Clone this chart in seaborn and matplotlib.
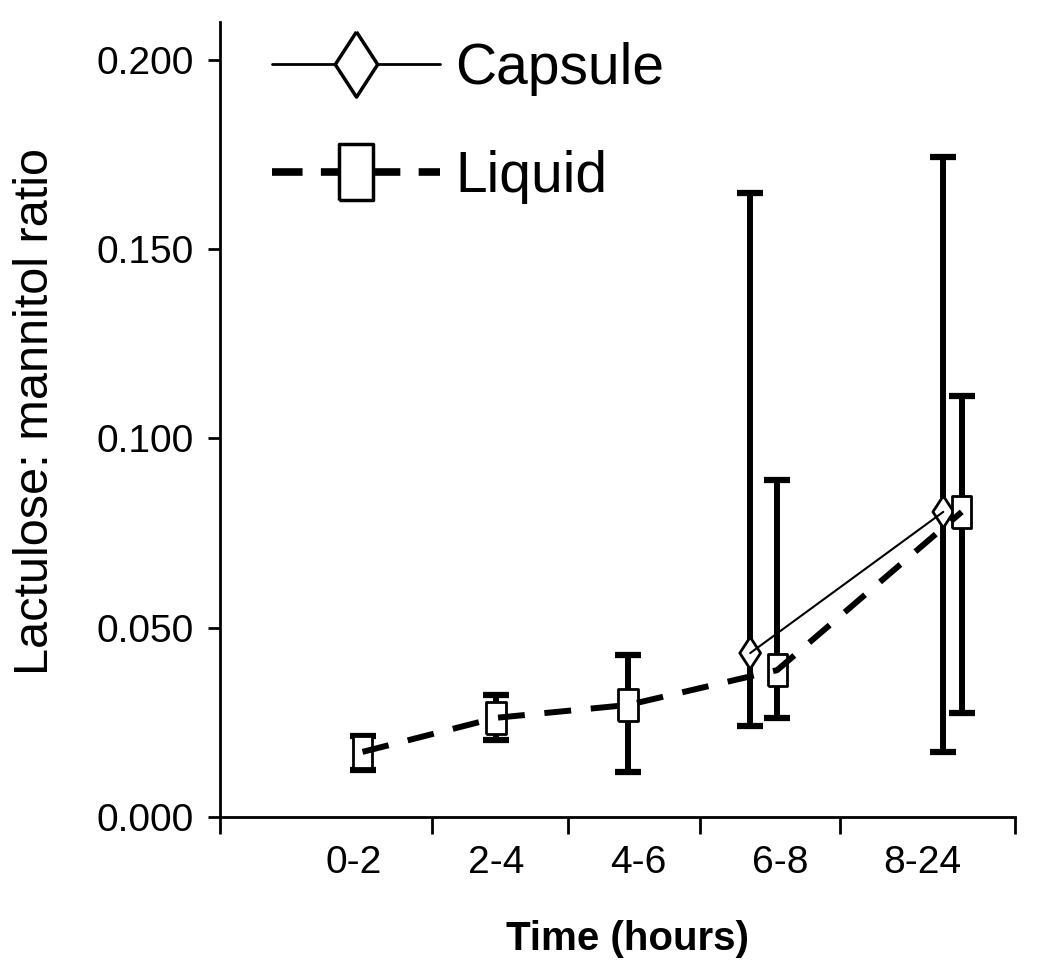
"""
Lactulose:mannitol ratio over collection period, capsule vs liquid dosing.
Mean with asymmetric error bars, recreated with seaborn + matplotlib.
"""

import numpy as np
import pandas as pd
import matplotlib
matplotlib.use("Agg")
import matplotlib.pyplot as plt
from matplotlib.lines import Line2D
import seaborn as sns

# Data
time_periods = ["0-2", "2-4", "4-6", "6-8", "8-24"]

capsule_mean = [np.nan, np.nan, np.nan, 0.0433, 0.0806]
capsule_low = [np.nan, np.nan, np.nan, 0.0240, 0.0172]
capsule_high = [np.nan, np.nan, np.nan, 0.1649, 0.1744]

liquid_mean = [0.0172, 0.0262, 0.0296, 0.0388, 0.0806]
liquid_low = [0.0124, 0.0203, 0.0119, 0.0262, 0.0275]
liquid_high = [0.0214, 0.0322, 0.0428, 0.0890, 0.1112]

y_ticks = [0.0, 0.05, 0.10, 0.15, 0.20]

# Horizontal nudges of each series around its category (as in the original)
NUDGE = {
    "Capsule": [0.0, 0.0, 0.0, -0.21, 0.15],
    "Liquid": [0.06, 0.0, -0.07, -0.02, 0.28],
}
# category boundary tick marks on the x axis
BOUNDS = [-0.944, 0.549, 1.507, 2.437, 3.423, 4.655]


def build_frame():
    rows = []
    for name, mean, lo, hi in [
        ("Capsule", capsule_mean, capsule_low, capsule_high),
        ("Liquid", liquid_mean, liquid_low, liquid_high),
    ]:
        for i, period in enumerate(time_periods):
            rows.append({
                "Time": period,
                "Series": name,
                "x": i + NUDGE[name][i],
                "Ratio": mean[i],
                "Low": lo[i],
                "High": hi[i],
            })
    return pd.DataFrame(rows).dropna()


def main():
    sns.set_style("ticks")
    plt.rcParams["font.family"] = ["Liberation Sans", "DejaVu Sans"]
    plt.rcParams["text.color"] = "black"
    plt.rcParams["axes.labelcolor"] = "black"
    plt.rcParams["xtick.color"] = "black"
    plt.rcParams["ytick.color"] = "black"

    df = build_frame()

    fig = plt.figure(figsize=(10.5, 9.74), dpi=100)
    ax = fig.add_axes([220 / 1050, 1 - 817 / 974, 795 / 1050, 795 / 974])

    diamond = [(0, 1), (0.65, 0), (0, -1), (-0.65, 0), (0, 1)]
    rect = [(-0.6, -1), (0.6, -1), (0.6, 1), (-0.6, 1), (-0.6, -1)]

    # error bars first (behind markers)
    yerr = np.vstack([df["Ratio"] - df["Low"], df["High"] - df["Ratio"]])
    ax.errorbar(df["x"], df["Ratio"], yerr=yerr, fmt="none", ecolor="black",
                elinewidth=4.3, capsize=9.5, capthick=4.5, zorder=2)

    # open markers
    sns.scatterplot(data=df, x="x", y="Ratio", style="Series",
                    markers={"Capsule": diamond, "Liquid": rect},
                    s=23 ** 2, color="white", edgecolor="black", linewidth=2,
                    legend=False, ax=ax, zorder=3)

    # connecting lines drawn over the markers
    sns.lineplot(data=df, x="x", y="Ratio", hue="Series", style="Series",
                 size="Series", sizes={"Capsule": 1.5, "Liquid": 4.3},
                 palette={"Capsule": "black", "Liquid": "black"},
                 dashes={"Capsule": "", "Liquid": (4.5, 3.3)},
                 estimator=None, sort=True, legend=False, ax=ax, zorder=4)
    for ln in ax.get_lines():
        ln.set_dash_capstyle("butt")

    # axes
    ax.set_xlim(BOUNDS[0], BOUNDS[-1])
    ax.set_ylim(0, 0.21)
    ax.set_xticks(range(len(time_periods)))
    ax.set_xticklabels(time_periods)
    ax.set_xticks(BOUNDS, minor=True)
    ax.set_yticks(y_ticks)
    ax.set_yticklabels([f"{v:.3f}" for v in y_ticks])
    ax.tick_params(axis="x", which="major", length=0, pad=20, labelsize=28)
    ax.tick_params(axis="x", which="minor", length=12, width=2, direction="out")
    ax.tick_params(axis="y", length=9, width=2, pad=10, labelsize=28)
    sns.despine(ax=ax)
    for side in ["left", "bottom"]:
        ax.spines[side].set_linewidth(2)
        ax.spines[side].set_color("black")

    ax.set_ylabel("Lactulose: mannitol ratio", fontsize=35)
    ax.yaxis.set_label_coords(-0.204, 0.51)
    ax.set_xlabel("Time (hours)", fontsize=29, fontweight="bold")
    ax.xaxis.set_label_coords(0.513, -0.13)

    handles = [
        Line2D([], [], color="black", lw=2, marker=diamond, markersize=47,
               markerfacecolor="white", markeredgecolor="black", markeredgewidth=2.5),
        Line2D([], [], color="black", lw=5.5, ls=(0, (4.0, 2.4)), marker=rect,
               markersize=40, markerfacecolor="white", markeredgecolor="black",
               markeredgewidth=2.5, dash_capstyle="butt"),
    ]
    ax.legend(handles, ["Capsule", "Liquid"], loc="upper left",
              bbox_to_anchor=(0.065, 0.975), frameon=False, fontsize=41,
              handlelength=2.95, handletextpad=0.28, labelspacing=0.95,
              borderaxespad=0, borderpad=0)

    fig.savefig("out.png", dpi=100)
    plt.close(fig)


if __name__ == "__main__":
    main()
